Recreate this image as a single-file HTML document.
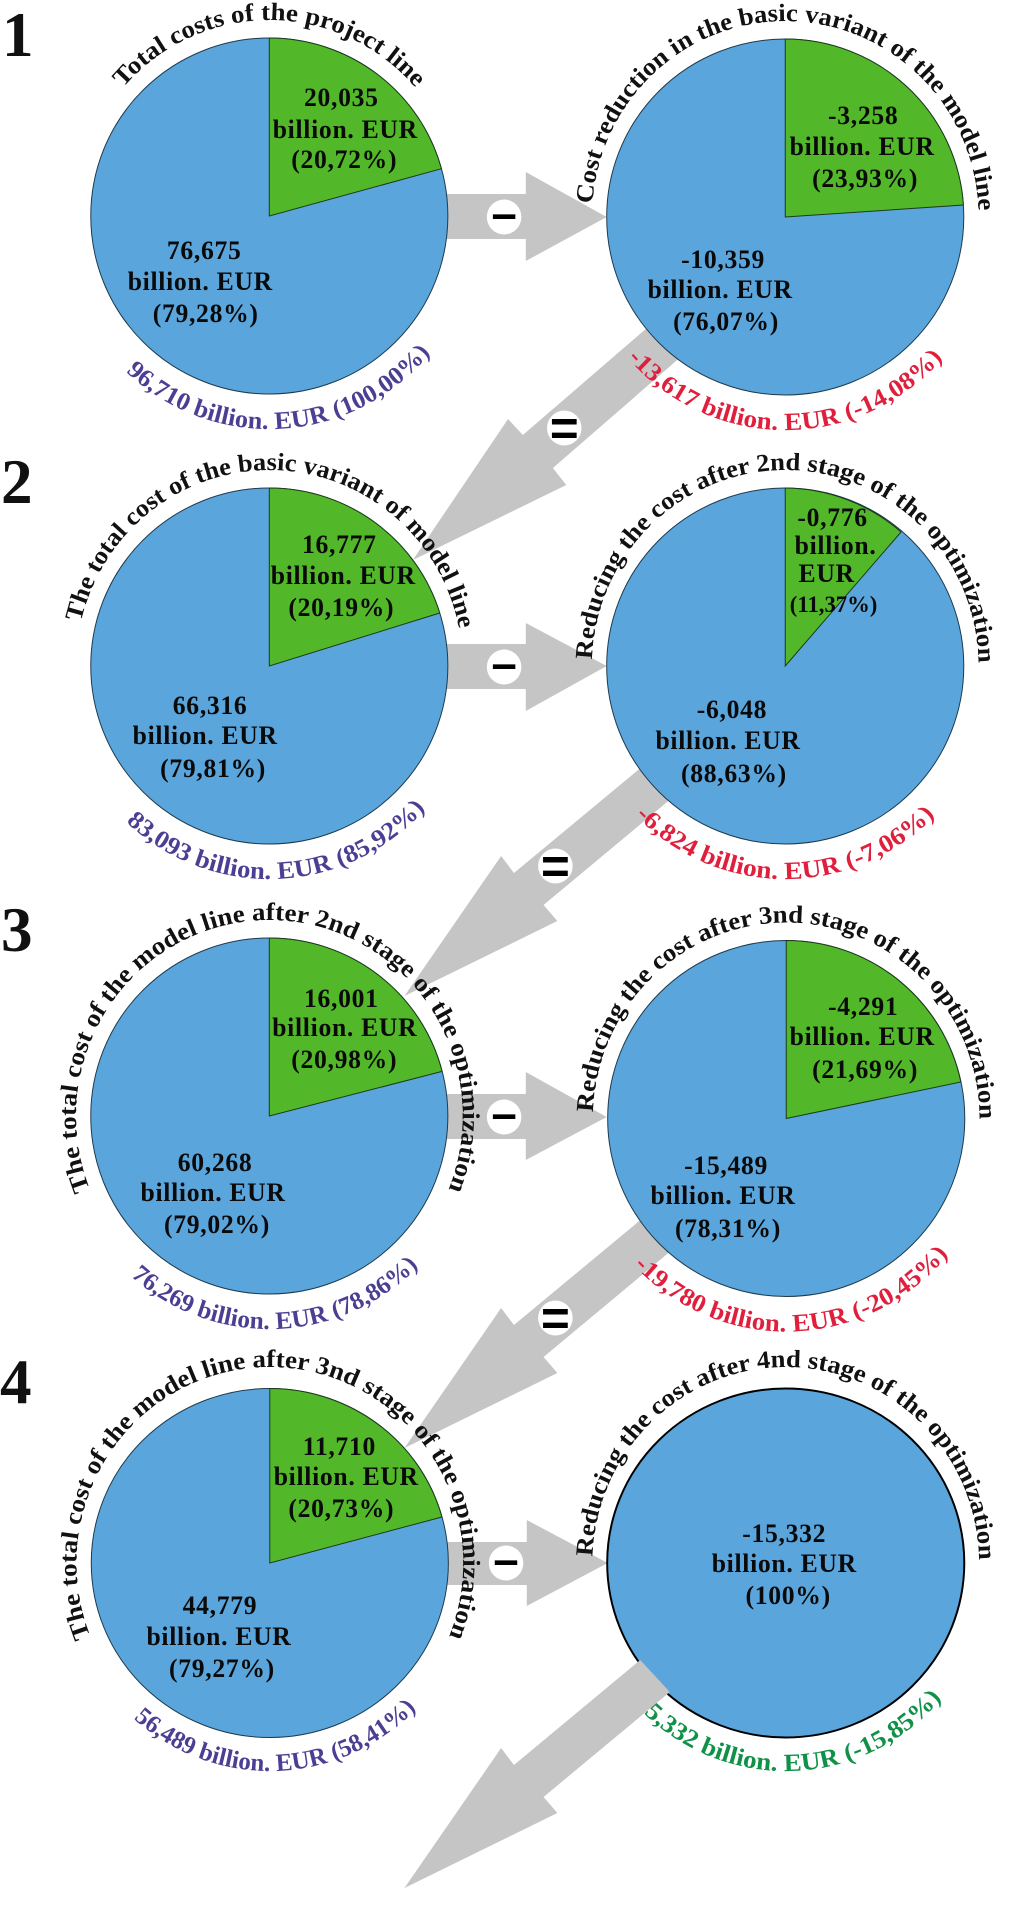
<!DOCTYPE html>
<html><head><meta charset="utf-8"><style>
html,body{margin:0;padding:0;background:#fff}
svg{display:block}
text{font-family:"Liberation Serif",serif;font-weight:bold}
.v{font-size:26px;letter-spacing:.7px;text-anchor:middle;fill:#0a0a0a}
.t{font-size:25px;text-anchor:middle;fill:#111}
.b{font-size:25px;text-anchor:middle}
.n{font-size:64px;fill:#111}
.s{font-family:"Liberation Sans",sans-serif;font-size:46px;text-anchor:middle;fill:#000}
.e{font-family:"Liberation Sans",sans-serif;font-size:50px;text-anchor:middle;fill:#000}
.a{fill:#c6c5c5}
.bl{fill:#5aa5dc;stroke:#1c3a4c;stroke-width:1}
.gr{fill:#52b82a;stroke:#1c3a1c;stroke-width:1}
</style></head><body>
<svg width="1015" height="1915" viewBox="0 0 1015 1915" xmlns="http://www.w3.org/2000/svg">
<defs>
<path id="p0" d="M-17,195.3 A196,196 0 1 1 17,195.3"/>
<path id="p1" d="M-18,-212.2 A213,213 0 1 0 18,-212.2"/>
<path id="p2" d="M-18,-207.2 A208,208 0 1 0 18,-207.2"/>
</defs>
<g transform="scale(.98648,1)">

<!-- horizontal arrows -->
<polygon class="a" points="450,194 533,194 533,172 615,217 533,261 533,239 450,239"/>
<polygon class="a" points="450,644 533,644 533,623 615,666 533,711 533,689 450,689"/>
<polygon class="a" points="450,1094 533,1094 533,1072 615,1117 533,1160 533,1139 450,1139"/>
<polygon class="a" points="450,1542 534,1542 534,1520 616,1563 534,1606 534,1585 450,1585"/>
<!-- diagonal arrows -->
<polygon class="a" points="664,321 530,435 515,419 418.500,560 574,485 560.500,468 697,351"/>
<polygon class="a" points="659,760 521,873 508,856 410,996 565,921 551,905 686,794"/>
<polygon class="a" points="659,1212 521,1325 508,1308 410,1448 565,1373 551,1357 686,1246"/>

<!-- text under final arrow -->
<g transform="translate(796.5,1563) rotate(.3)"><text class="b" fill="#0f9147"><textPath href="#p2" startOffset="50%" textLength="361" lengthAdjust="spacingAndGlyphs">-15,332 billion. EUR (-15,85%)</textPath></text></g>

<!-- pies -->
<ellipse class="bl" cx="273" cy="216" rx="181" ry="178"/>
<path class="gr" d="M273,216 V38 A181,178 0 0 1 447.5,168.7 Z"/>
<ellipse class="bl" cx="796" cy="217" rx="181" ry="178"/>
<path class="gr" d="M796,217 V39 A181,178 0 0 1 976.6,205 Z"/>
<ellipse class="bl" cx="273" cy="666" rx="181" ry="178"/>
<path class="gr" d="M273,666 V488 A181,178 0 0 1 445.8,613 Z"/>
<ellipse class="bl" cx="796" cy="666" rx="181" ry="178"/>
<path class="gr" d="M796,666 V488 A181,178 0 0 1 913.4,532 Z"/>
<ellipse class="bl" cx="273" cy="1116" rx="181" ry="178"/>
<path class="gr" d="M273,1116 V938 A181,178 0 0 1 448.2,1071.4 Z"/>
<ellipse class="bl" cx="797" cy="1118.5" rx="181" ry="178"/>
<path class="gr" d="M797,1118.5 V940.5 A181,178 0 0 1 974,1082 Z"/>
<ellipse class="bl" cx="273.5" cy="1563" rx="181" ry="174.5"/>
<path class="gr" d="M273.5,1563 V1388.5 A181,174.5 0 0 1 448,1517 Z"/>
<ellipse cx="796.5" cy="1563" rx="181" ry="174.5" fill="#5aa5dc" stroke="#000" stroke-width="2"/>
<!-- final arrow over pie -->
<polygon class="a" points="649,1660 521,1765 508,1748 410,1888 565,1813 551,1797 679,1692"/>

<!-- operator badges -->
<circle cx="511" cy="217" r="17.5" fill="#fff"/><text class="s" x="511" y="229">–</text>
<circle cx="511" cy="667" r="17.5" fill="#fff"/><text class="s" x="511" y="679">–</text>
<circle cx="511" cy="1117" r="17.5" fill="#fff"/><text class="s" x="511" y="1129">–</text>
<circle cx="513" cy="1563" r="17.5" fill="#fff"/><text class="s" x="513" y="1575">–</text>
<circle cx="572" cy="428" r="17.5" fill="#fff"/><text class="e" x="572" y="445">=</text>
<circle cx="563" cy="866" r="17.5" fill="#fff"/><text class="e" x="563" y="883">=</text>
<circle cx="563" cy="1318" r="17.5" fill="#fff"/><text class="e" x="563" y="1335">=</text>

<!-- row numbers -->
<text class="n" x="2" y="56">1</text>
<text class="n" x="1" y="503">2</text>
<text class="n" x="1" y="951">3</text>
<text class="n" x="0" y="1403">4</text>

<!-- titles -->
<g transform="translate(273,216)"><text class="t"><textPath href="#p0" startOffset="50%" textLength="336" lengthAdjust="spacingAndGlyphs">Total costs of the project line</textPath></text></g>
<g transform="translate(796,217) rotate(1)"><text class="t"><textPath href="#p0" startOffset="50%" textLength="596" lengthAdjust="spacingAndGlyphs">Cost reduction in the basic variant of the model line</textPath></text></g>
<g transform="translate(273,666) rotate(1)"><text class="t"><textPath href="#p0" startOffset="50%" textLength="534" lengthAdjust="spacingAndGlyphs">The total cost of the basic variant of model line</textPath></text></g>
<g transform="translate(796,666) rotate(.5)"><text class="t"><textPath href="#p0" startOffset="50%" textLength="606" lengthAdjust="spacingAndGlyphs">Reducing the cost after 2nd stage of the optimization</textPath></text></g>
<g transform="translate(273,1116)"><text class="t"><textPath href="#p0" startOffset="50%" textLength="766" lengthAdjust="spacingAndGlyphs">The total cost of the model line after 2nd stage of the optimization</textPath></text></g>
<g transform="translate(797,1118.5) rotate(1)"><text class="t"><textPath href="#p0" startOffset="50%" textLength="610" lengthAdjust="spacingAndGlyphs">Reducing the cost after 3nd stage of the optimization</textPath></text></g>
<g transform="translate(273.5,1563)"><text class="t"><textPath href="#p0" startOffset="50%" textLength="766" lengthAdjust="spacingAndGlyphs">The total cost of the model line after 3nd stage of the optimization</textPath></text></g>
<g transform="translate(796.5,1563) rotate(.5)"><text class="t"><textPath href="#p0" startOffset="50%" textLength="606" lengthAdjust="spacingAndGlyphs">Reducing the cost after 4nd stage of the optimization</textPath></text></g>

<!-- totals -->
<g transform="translate(273,216) rotate(-3.5)"><text class="b" fill="#4b3f93"><textPath href="#p1" startOffset="50%" textLength="346" lengthAdjust="spacingAndGlyphs">96,710 billion. EUR (100,00%)</textPath></text></g>
<g transform="translate(796,217)"><text class="b" fill="#e01f3d"><textPath href="#p1" startOffset="50%" textLength="361" lengthAdjust="spacingAndGlyphs">-13,617 billion. EUR (-14,08%)</textPath></text></g>
<g transform="translate(273,666) rotate(-2.5)"><text class="b" fill="#4b3f93"><textPath href="#p1" startOffset="50%" textLength="338" lengthAdjust="spacingAndGlyphs">83,093 billion. EUR (85,92%)</textPath></text></g>
<g transform="translate(796,666)"><text class="b" fill="#e01f3d"><textPath href="#p1" startOffset="50%" textLength="338" lengthAdjust="spacingAndGlyphs">-6,824 billion. EUR (-7,06%)</textPath></text></g>
<g transform="translate(273,1116) rotate(-2)"><text class="b" fill="#4b3f93"><textPath href="#p1" startOffset="50%" textLength="321" lengthAdjust="spacingAndGlyphs">76,269 billion. EUR (78,86%)</textPath></text></g>
<g transform="translate(797,1118.5) rotate(-2)"><text class="b" fill="#e01f3d"><textPath href="#p1" startOffset="50%" textLength="360" lengthAdjust="spacingAndGlyphs">-19,780 billion. EUR (-20,45%)</textPath></text></g>
<g transform="translate(273.5,1563) rotate(-2)"><text class="b" fill="#4b3f93"><textPath href="#p2" startOffset="50%" textLength="316" lengthAdjust="spacingAndGlyphs">56,489 billion. EUR (58,41%)</textPath></text></g>

<!-- values -->
<text class="v" x="346" y="106">20,035</text><text class="v" x="350" y="138">billion. EUR</text><text class="v" x="349" y="168">(20,72%)</text>
<text class="v" x="207" y="259">76,675</text><text class="v" x="203" y="290">billion. EUR</text><text class="v" x="208.5" y="322">(79,28%)</text>
<text class="v" x="875" y="124">-3,258</text><text class="v" x="874" y="155">billion. EUR</text><text class="v" x="877" y="187">(23,93%)</text>
<text class="v" x="733" y="268">-10,359</text><text class="v" x="730" y="298">billion. EUR</text><text class="v" x="736" y="330">(76,07%)</text>

<text class="v" x="344" y="553">16,777</text><text class="v" x="348" y="584">billion. EUR</text><text class="v" x="346" y="616">(20,19%)</text>
<text class="v" x="213" y="714">66,316</text><text class="v" x="208" y="744">billion. EUR</text><text class="v" x="216" y="777">(79,81%)</text>
<text class="v" x="844" y="526">-0,776</text><text class="v" x="847" y="554">billion.</text><text class="v" x="838" y="582">EUR</text><text class="v" x="845" y="612" style="font-size:23px;letter-spacing:0">(11,37%)</text>
<text class="v" x="742" y="718">-6,048</text><text class="v" x="738" y="749">billion. EUR</text><text class="v" x="744" y="782">(88,63%)</text>

<text class="v" x="346" y="1007">16,001</text><text class="v" x="349.5" y="1036">billion. EUR</text><text class="v" x="349" y="1068">(20,98%)</text>
<text class="v" x="218" y="1171">60,268</text><text class="v" x="216" y="1201">billion. EUR</text><text class="v" x="220" y="1233">(79,02%)</text>
<text class="v" x="875" y="1015">-4,291</text><text class="v" x="874" y="1045">billion. EUR</text><text class="v" x="877" y="1078">(21,69%)</text>
<text class="v" x="736" y="1174">-15,489</text><text class="v" x="733" y="1204">billion. EUR</text><text class="v" x="738" y="1237">(78,31%)</text>

<text class="v" x="344" y="1455">11,710</text><text class="v" x="351" y="1485">billion. EUR</text><text class="v" x="346" y="1517">(20,73%)</text>
<text class="v" x="223" y="1614">44,779</text><text class="v" x="222" y="1645">billion. EUR</text><text class="v" x="225" y="1677">(79,27%)</text>
<text class="v" x="795" y="1542">-15,332</text><text class="v" x="795" y="1572">billion. EUR</text><text class="v" x="799" y="1604">(100%)</text>
</g>
</svg>
</body></html>
